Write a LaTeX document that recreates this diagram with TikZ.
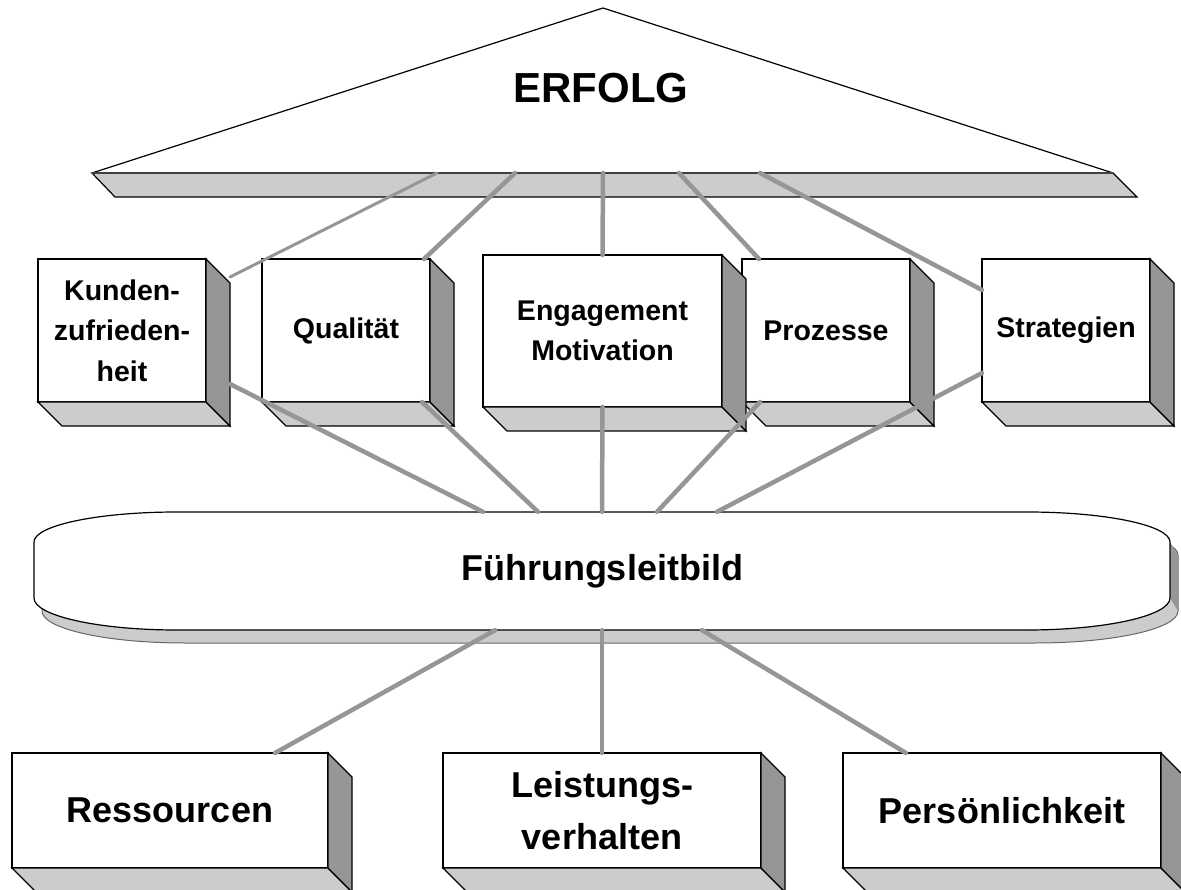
\documentclass[tikz,border=0pt]{standalone}
\usepackage{fontspec}
\setmainfont{Liberation Sans}
\usetikzlibrary{calc}
\definecolor{hellgrau}{HTML}{CCCCCC}
\definecolor{dunkelgrau}{HTML}{969696}
\tikzset{
    quaderfront/.style={draw=black, line width=1.2pt, fill=white, inner sep=0pt, outer sep=0pt, align=center},
    boden/.style={draw=black, line width=1.2pt, fill=hellgrau},
    seite/.style={draw=black, line width=1.2pt, fill=dunkelgrau},
    klein/.style={font=\fontsize{28.5}{40.5}\selectfont\bfseries},
    gross/.style={font=\fontsize{36}{52}\selectfont\bfseries},
    verbindung/.style={draw=dunkelgrau, line width=4.5pt, line cap=round},
}
% quader: name, mitte, breite, hoehe, schrift, text
\newcommand{\quader}[6]{
    \node[quaderfront, #5, minimum width=#3, minimum height=#4] (#1) at #2 {#6};
    \draw[boden] (#1.south west) -- (#1.south east) -- ++(24,24) -- ($(#1.south west)+(24,24)$) -- cycle;
    \draw[seite] (#1.north east) -- ++(24,24) -- ($(#1.south east)+(24,24)$) -- (#1.south east) -- cycle;
}
\newcommand{\leitbildpfad}{(177,512) -- (1027,512) arc(-90:0:143 and 30) -- (1170,598) arc(0:90:143 and 32) -- (177,630) arc(90:180:143 and 32) -- (34,542) arc(180:270:143 and 30) -- cycle}

\begin{document}
\begin{tikzpicture}[x=1pt, y=-1pt]
    \useasboundingbox (0,0) rectangle (1181,890);
    \clip (0,0) rectangle (1181,890);
    % dach
    \draw[line width=1.2pt, fill=white] (92,173) -- (603,8) -- (1113,173);
    \node[font=\fontsize{42}{50}\selectfont\bfseries] (erfolg) at (601,88.5) {ERFOLG};
    \draw[boden] (92,173) -- (1113,173) -- (1137,197) -- (115,197) -- cycle;
    \draw[line width=2pt, draw=black!75] (92,173) -- (1113,173);
    \coordinate (balken) at (603,173);

    % leitbild
    \begin{scope}[shift={(8,13)}]
        \filldraw[fill=hellgrau, draw=black!60, line width=1pt] \leitbildpfad;
    \end{scope}
    \fill[dunkelgrau] (1170,542) -- (1178,555) -- (1178,611) -- (1170,598) -- cycle;
    \draw[line width=1.2pt, fill=white] \leitbildpfad;
    \node[gross, minimum width=1136pt, minimum height=118pt] (leitbild) at (602,571) {Führungsleitbild};

    \quader{kunden}{(122,330.5)}{168pt}{143pt}{klein}{Kunden-\\zufrieden-\\heit}
    \quader{qual}{(346,330.5)}{168pt}{143pt}{klein}{Qualität}
    \quader{proz}{(826,330.5)}{168pt}{143pt}{klein}{Prozesse}
    \quader{strat}{(1066,330.5)}{168pt}{143pt}{klein}{Strategien}
    \quader{engage}{(602.5,331)}{239pt}{152pt}{klein}{Engagement\\Motivation}

    \quader{ress}{(170,810.5)}{316pt}{115pt}{gross}{Ressourcen}
    \quader{leist}{(602,810.5)}{318pt}{115pt}{gross}{Leistungs-\\verhalten}
    \quader{pers}{(1002,810.5)}{318pt}{115pt}{gross}{Persönlichkeit}

    \draw[verbindung, line width=3pt] ($(balken)+(-166,0)$) -- ($(kunden.north east)+(24,18)$);
    \draw[verbindung] ($(balken)+(-88,0)$) -- ($(qual.north east)+(-6,0)$);
    \draw[verbindung] (balken) -- (engage.north);
    \draw[verbindung] ($(balken)+(76,0)$) -- ($(proz.north west)+(17,0)$);
    \draw[verbindung] ($(balken)+(157,0)$) -- ($(strat.north west)+(0,31)$);

    \draw[verbindung] ($(kunden.south east)+(24,-18)$) -- ($(leitbild.north)+(-119,0)$);
    \draw[verbindung] ($(qual.south east)+(-8,0)$) -- ($(leitbild.north)+(-64,0)$);
    \draw[verbindung] (engage.south) -- (leitbild.north);
    \draw[verbindung] ($(proz.south west)+(18,0)$) -- ($(leitbild.north)+(55,0)$);
    \draw[verbindung] ($(strat.south west)+(0,-29)$) -- ($(leitbild.north)+(115,0)$);

    \draw[verbindung] ($(leitbild.south)+(-107,0)$) -- ($(ress.north)+(105,0)$);
    \draw[verbindung] (leitbild.south) -- (leist.north);
    \draw[verbindung] ($(leitbild.south)+(100,0)$) -- ($(pers.north west)+(63,0)$);
\end{tikzpicture}
\end{document}
